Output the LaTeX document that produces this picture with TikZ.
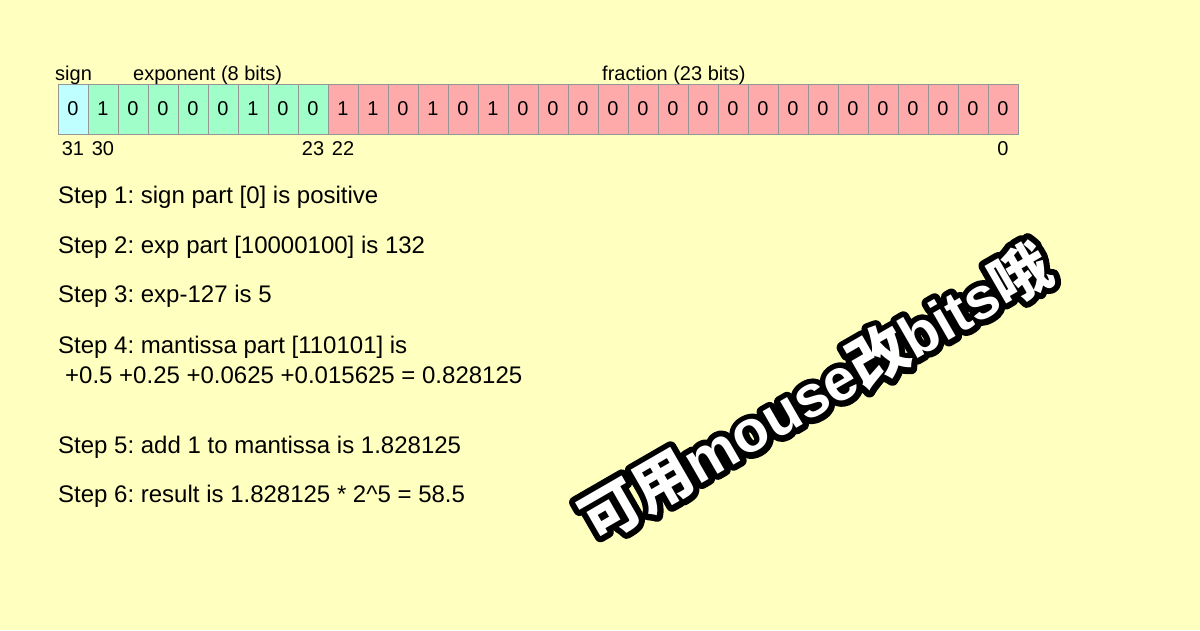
\documentclass[tikz,border=0pt]{standalone}
\usepackage{fontspec}
\setmainfont{Liberation Sans}
\newfontfamily\cjk{Noto Sans CJK SC}
\usetikzlibrary{calc}

\definecolor{pagebg}{RGB}{255,255,192}
\definecolor{signfill}{RGB}{192,255,255}
\definecolor{expfill}{RGB}{160,255,200}
\definecolor{fracfill}{RGB}{255,170,170}
\definecolor{boxline}{RGB}{150,150,150}

\newcommand{\mousenote}{{\cjk 可用}mouse{\cjk 改}bits{\cjk 哦}}
% Stroked black copy under the white text.
\newcommand{\outlined}[1]{\rlap{\color{black}\special{pdf:literal direct 2 Tr 12 w 1 j 1 J}#1\special{pdf:literal direct 0 Tr}}\color{white}#1}
\frenchspacing

\begin{document}
\begin{tikzpicture}[x=1pt, y=-1pt,
        every node/.style = {font=\fontsize{20}{24}\selectfont, inner sep=0pt},
        bitbox/.style = {draw=boxline, line width=1pt,
                         minimum width=30pt, minimum height=50pt},
        signbox/.style = {bitbox, fill=signfill},
        expbox/.style = {bitbox, fill=expfill},
        fracbox/.style = {bitbox, fill=fracfill},
        steptext/.style = {anchor=base west, font=\fontsize{24}{28}\selectfont},
        bignote/.style = {rotate=30, font=\fontsize{59}{66}\selectfont\bfseries}]

        % Page and its size.
        \fill [pagebg] (0,0) rectangle (1200,630);
        \useasboundingbox (0,0) rectangle (1200,630);

        % The 32 bits: sign, exponent, fraction.
        \node [signbox] (s0) at (73,109) {0};
        \foreach \bit [count=\i] in {1,0,0,0,0,1,0,0}
                \node [expbox] (e\i) at (73+30*\i,109) {\bit};
        \foreach \bit [count=\i] in {1,1,0,1,0,1,0,0,0,0,0,0,0,0,0,0,0,0,0,0,0,0,0}
                \node [fracbox] (f\i) at (313+30*\i,109) {\bit};

        % Label the fields above the bits.
        \node [anchor=base west] (signlabel) at (55,80) {sign};
        \node [anchor=base west] (explabel) at (133,80) {exponent (8 bits)};
        \node [anchor=base west] (fraclabel) at (602,80) {fraction (23 bits)};

        % Bit positions below the boxes.
        \node [anchor=base] (n31) at ([yshift=-21pt]s0.south) {31};
        \node [anchor=base] (n30) at ([yshift=-21pt]e1.south) {30};
        \node [anchor=base] (n23) at ([yshift=-21pt]e8.south) {23};
        \node [anchor=base] (n22) at ([yshift=-21pt]f1.south) {22};
        \node [anchor=base] (n0) at ([yshift=-21pt]f23.south) {0};

        % The steps of the decoding.
        \node [steptext] (step1) at (58,203) {Step 1: sign part [0] is positive};
        \node [steptext] (step2) at (58,253) {Step 2: exp part [10000100] is 132};
        \node [steptext] (step3) at (58,302) {Step 3: exp-127 is 5};
        \node [steptext] (step4) at (58,353) {Step 4: mantissa part [110101] is};
        \node [steptext] (step4b) at (65,383) {+0.5 +0.25 +0.0625 +0.015625 = 0.828125};
        \node [steptext] (step5) at (58,453) {Step 5: add 1 to mantissa is 1.828125};
        \node [steptext] (step6) at (58,502) {Step 6: result is 1.828125 * 2\^{}5 = 58.5};

        % Outlined note across the lower right.
        \node [bignote] (note) at (815,392) {\outlined{\mousenote}};
\end{tikzpicture}
\end{document}
